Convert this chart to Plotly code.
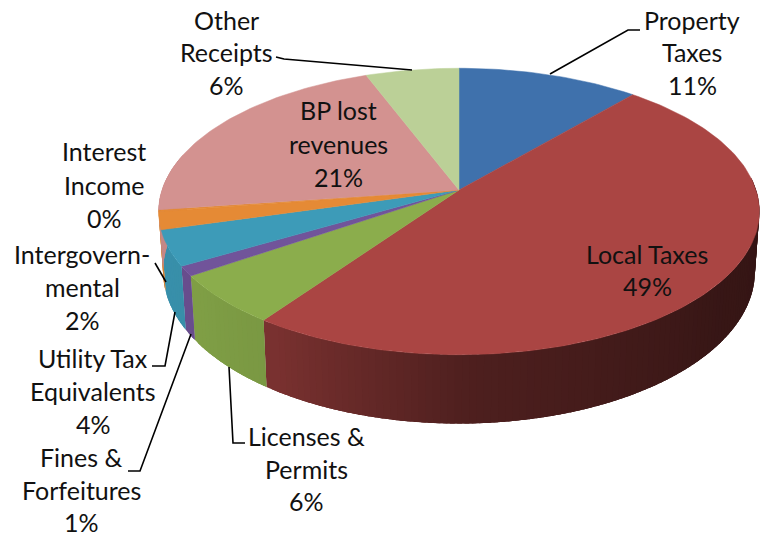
import numpy as np
import plotly.graph_objects as go

# ---- data ----
categories = ["Property Taxes", "Local Taxes", "Licenses & Permits", "Fines & Forfeitures",
              "Utility Tax Equivalents", "Intergovernmental", "Interest Income",
              "BP lost revenues", "Other Receipts"]
percentages = [11.3, 48.5, 5.7, 1.1, 4.0, 2.0, 0.2, 21.4, 5.8]
colors_top = ["#3F71AC", "#AA4543", "#8BAD4C", "#71549A", "#3D9BB8", "#E58A35", "#E58A35", "#D39290", "#BBD097"]

# label lines: text, x centre, y centre (pixels)
label_lines = [
    ("Other", 226, 20), ("Receipts", 226, 52), ("6%", 226, 85),
    ("Property", 692, 20), ("Taxes", 692, 52), ("11%", 692, 85),
    ("BP lost", 338, 110), ("revenues", 338, 144), ("21%", 338, 177),
    ("Interest", 104, 151), ("Income", 104, 185), ("0%", 104, 218),
    ("Intergovern-", 82, 254), ("mental", 82, 287), ("2%", 82, 320),
    ("Utility Tax", 93, 358), ("Equivalents", 93, 391), ("4%", 93, 424),
    ("Fines &", 81, 457), ("Forfeitures", 81, 490), ("1%", 81, 522),
    ("Licenses &", 306, 436), ("Permits", 306, 469), ("6%", 306, 501),
    ("Local Taxes", 647, 254), ("49%", 647, 286),
]
leaders = [
    ([276, 284, 412], [57, 59, 70]),
    ([550, 628, 640], [74, 30, 30]),
    ([155, 166], [263, 282]),
    ([152, 165, 175], [366, 366, 312]),
    ([128, 140, 191], [471, 471, 334]),
    ([229, 233, 245], [367, 443, 443]),
]

# ---- projection of the tilted disc ----
CX, CY, RX, RY, K, DEPTH = 459, 190, 297, 140, 0.15, 58.5

def project(t, drop=0.0, scale=1.0):
    u, v = np.sin(t), np.cos(t)
    w = 1 + K * v
    return CX + scale * RX * u / w, CY - RY * v / w + drop / w

def shade(t):
    d = np.degrees(t)
    return np.interp(d, [90, 130, 180, 215, 216, 236, 262, 290], [0.30, 0.33, 0.46, 0.72, 0.88, 0.92, 0.93, 0.95])

def rgb(hexcolor, f):
    r, g, b = (int(hexcolor[i:i + 2], 16) for i in (1, 3, 5))
    return f"rgb({int(r * f)},{int(g * f)},{int(b * f)})"

fig = go.Figure()
edges = np.cumsum([0] + percentages) / sum(percentages) * 2 * np.pi

# side wall, back to front
for i, c in enumerate(colors_top):
    a, b = max(edges[i], np.radians(85)), min(edges[i + 1], np.radians(285))
    if b <= a:
        continue
    n = max(1, int(np.degrees(b - a) / 1.2))
    for j in range(n):
        t0, t1 = a + (b - a) * j / n, a + (b - a) * (j + 1) / n
        ts = np.linspace(max(a, t0 - np.radians(2)), t1, 5)
        x1, y1 = project(ts)
        x2, y2 = project(ts[::-1], DEPTH, 0.985)
        col = rgb(c, shade((t0 + t1) / 2))
        fig.add_trace(go.Scatter(x=np.r_[x1, x2], y=np.r_[y1, y2], fill="toself", mode="none",
                                 fillcolor=col, hoverinfo="skip", showlegend=False))

# top face
for i, name in enumerate(categories):
    ts = np.linspace(edges[i], edges[i + 1], max(3, int(percentages[i] * 3)))
    x, y = project(ts)
    fig.add_trace(go.Scatter(x=np.r_[CX, x, CX], y=np.r_[CY, y, CY], fill="toself", mode="lines", name=name,
                             fillcolor=colors_top[i], line=dict(color=colors_top[i], width=0.5), showlegend=False))

# leader lines
for lx, ly in leaders:
    fig.add_trace(go.Scatter(x=lx, y=ly, mode="lines", line=dict(color="black", width=1.6),
                             hoverinfo="skip", showlegend=False))

for text, x, y in label_lines:
    fig.add_annotation(x=x, y=y, text=text, showarrow=False, xanchor="center", yanchor="middle",
                       font=dict(family="Lato", size=25, color="#111111"))

fig.update_layout(width=767, height=538, margin=dict(l=0, r=0, t=0, b=0),
                  paper_bgcolor="white", plot_bgcolor="white",
                  xaxis=dict(range=[0, 767], visible=False),
                  yaxis=dict(range=[538, 0], visible=False))
fig.write_html("out.html", config={"displayModeBar": False},
               post_script="document.body.style.margin='0';document.body.style.overflow='hidden';")
